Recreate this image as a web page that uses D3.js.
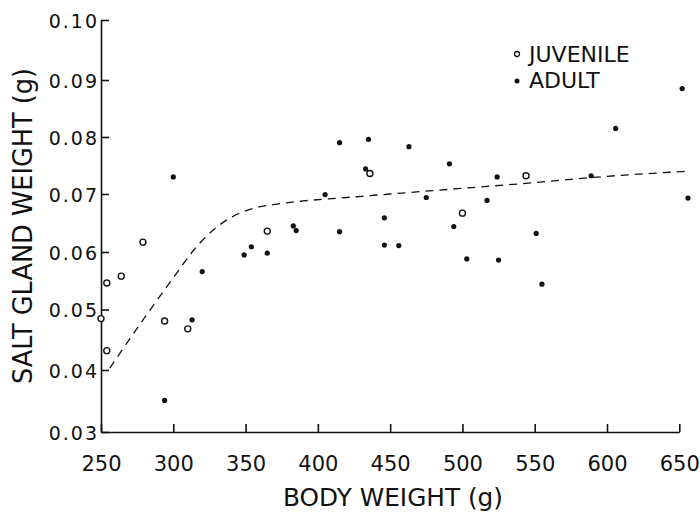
<!DOCTYPE html>
<html>
<head>
<meta charset="utf-8">
<script src="https://cdn.jsdelivr.net/npm/d3@7"></script>
<style>
  body { margin: 0; background: #fff; }
  svg { display: block; }
  text { font-family: "DejaVu Sans", sans-serif; fill: #111; }
</style>
</head>
<body>
<div id="chart-area"></div>
<script>
// juvenile birds (open circles)
var juvWeight = [250, 254, 254, 264, 279, 294, 310, 365, 436, 500, 544];
var juvGland  = [0.0485, 0.0432, 0.0546, 0.0558, 0.0617, 0.0481, 0.0468, 0.0636, 0.0736, 0.0667, 0.0732];

// adult birds (filled dots)
var adWeight = [294, 300, 313, 320, 349, 354, 365, 383, 385, 405, 415, 415, 433, 435,
                446, 446, 456, 463, 475, 491, 494, 503, 517, 524, 525, 551, 555, 589, 606, 652, 656];
var adGland  = [0.0351, 0.0730, 0.0483, 0.0566, 0.0595, 0.0609, 0.0598, 0.0645, 0.0637, 0.0699, 0.0790, 0.0635, 0.0744, 0.0796,
                0.0659, 0.0612, 0.0611, 0.0783, 0.0694, 0.0753, 0.0644, 0.0588, 0.0689, 0.0730, 0.0586, 0.0632, 0.0544, 0.0732, 0.0815, 0.0885, 0.0693];

// dashed fitted curve
var fitWeight = [256, 280, 300, 315, 325, 335, 345, 355, 370, 390, 420, 450, 500, 550, 600, 657];
var fitGland  = [0.0403, 0.0486, 0.0555, 0.0606, 0.0632, 0.0652, 0.0666, 0.0675, 0.0682, 0.0688, 0.0694, 0.0700, 0.0710, 0.0720, 0.0731, 0.0740];

var xTicks = [250, 300, 350, 400, 450, 500, 550, 600, 650];
var yTicks = [0.03, 0.04, 0.05, 0.06, 0.07, 0.08, 0.09, 0.10];
var legendLabels = ["JUVENILE", "ADULT"];

var width = 700, height = 513;

var svg = d3.select('#chart-area')
    .append('svg')
        .attr('width', width)
        .attr('height', height);

var x = d3.scaleLinear()
    .domain([250, 650])
    .range([101, 679.3]);

// the hand-drawn y axis is a little uneven, so follow its tick marks
var y = d3.scaleLinear()
    .domain(yTicks)
    .range([432, 370, 309.5, 252, 194, 137, 80, 20]);

var xAxis = d3.axisBottom(x)
    .tickValues(xTicks)
    .tickSizeInner(-8)
    .tickSizeOuter(0)
    .tickPadding(30)
    .tickFormat(d3.format("d"));

var gx = svg.append("g")
    .attr("class", "bottom axis")
    .attr("transform", "translate(0, 432)")
    .call(xAxis);

gx.selectAll("text")
    .attr("y", 38.7)
    .attr("dy", 0)
    .attr("font-size", "21px")
    .attr("font-family", "DejaVu Sans");

var yAxis = d3.axisLeft(y)
    .tickValues(yTicks)
    .tickSizeInner(-8)
    .tickSizeOuter(0)
    .tickPadding(2)
    .tickFormat(d3.format(".2f"));

var gy = svg.append("g")
    .attr("class", "left axis")
    .attr("transform", "translate(101, 0)")
    .call(yAxis);

gy.selectAll("text")
    .attr("x", -2)
    .attr("dy", "0.38em")
    .attr("font-size", "19px")
    .attr("letter-spacing", "2px")
    .attr("font-family", "DejaVu Sans");

svg.selectAll(".axis path, .axis line")
    .attr("stroke", "#111")
    .attr("stroke-width", 1.6);

// dashed curve
var line = d3.line()
    .x(function(d, i) { return x(fitWeight[i]); })
    .y(function(d, i) { return y(fitGland[i]); })
    .curve(d3.curveMonotoneX);

svg.append("path")
    .datum(fitWeight)
    .attr("d", line)
    .attr("fill", "none")
    .attr("stroke", "#111")
    .attr("stroke-width", 1.3)
    .attr("stroke-dasharray", "8,6");

// points
svg.selectAll(".adult")
    .data(adWeight)
    .enter()
    .append("circle")
    .attr("class", "adult")
    .attr("cx", function(d) { return x(d); })
    .attr("cy", function(d, i) { return y(adGland[i]); })
    .attr("r", 2.6)
    .attr("fill", "#111");

svg.selectAll(".juv")
    .data(juvWeight)
    .enter()
    .append("circle")
    .attr("class", "juv")
    .attr("cx", function(d) { return x(d); })
    .attr("cy", function(d, i) { return y(juvGland[i]); })
    .attr("r", 3)
    .attr("fill", "#fff")
    .attr("stroke", "#111")
    .attr("stroke-width", 1.4);

// legend
var legend = svg.append("g")
    .attr("transform", "translate(517, 0)");

legend.append("circle")
    .attr("cx", 0).attr("cy", 54)
    .attr("r", 2.5)
    .attr("fill", "#fff")
    .attr("stroke", "#111")
    .attr("stroke-width", 1.3);

legend.append("circle")
    .attr("cx", 0).attr("cy", 81)
    .attr("r", 2.5)
    .attr("fill", "#111");

legend.selectAll(".lab")
    .data(legendLabels)
    .enter()
    .append("text")
    .attr("class", "lab")
    .attr("x", 12)
    .attr("y", function(d, i) { return 61.7 + i * 26.6; })
    .attr("font-size", "22px")
    .text(function(d) { return d; });

// axis titles
svg.append("text")
    .attr("class", "x axis-label")
    .attr("x", 283)
    .attr("y", 506)
    .attr("font-size", "25px")
    .attr("textLength", 220)
    .attr("lengthAdjust", "spacingAndGlyphs")
    .text("BODY WEIGHT (g)");

svg.append("text")
    .attr("class", "y axis-label")
    .attr("x", -384)
    .attr("y", 32)
    .attr("font-size", "26px")
    .attr("transform", "rotate(-90)")
    .attr("textLength", 316)
    .attr("lengthAdjust", "spacingAndGlyphs")
    .text("SALT GLAND WEIGHT (g)");
</script>
</body>
</html>
